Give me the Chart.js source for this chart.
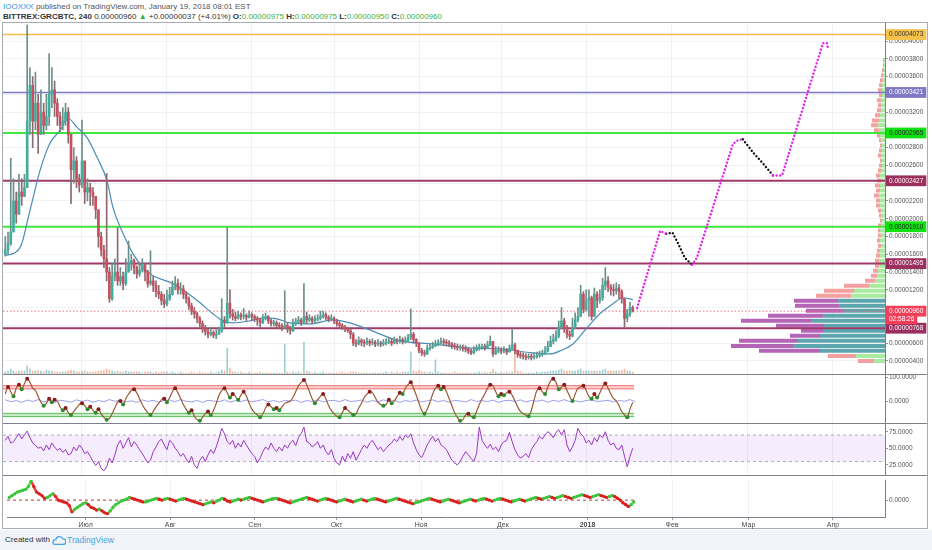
<!DOCTYPE html>
<html lang="ru">
<head>
<meta charset="utf-8">
<title>BITTREX:GRCBTC, 240</title>
<script src="https://cdn.jsdelivr.net/npm/chart.js@4.4.1/dist/chart.umd.min.js"></script>
<style>
  html, body { margin:0; padding:0; background:#fff; }
  body { position:relative; width:932px; height:550px; overflow:hidden; font-family:"Liberation Sans", Arial, sans-serif; }
  .hdr { position:absolute; left:3px; font-size:8px; line-height:9px; white-space:nowrap; color:#555; }
  #hdr1 { top:2px; }
  #hdr2 { top:12px; color:#333; }
  #hdr1 .user { color:#3b8fde; }
  #hdr2 b { font-weight:bold; color:#333; }
  #hdr2 .g { color:#3cb043; }
  #frame { position:absolute; left:2px; top:22px; width:926px; height:507px; border:1px solid #a9acb3; box-sizing:border-box; }
  canvas { position:absolute; }
  .sep { position:absolute; left:3px; width:924px; height:1px; background:#7d8087; }
  #foot { position:absolute; left:0; top:530px; width:932px; height:20px; background:#f0f3f7; }
  #foot .t1 { position:absolute; left:5px; top:5px; font-size:8px; color:#333; }
  #foot svg { position:absolute; left:52px; top:5px; }
  #foot .t2 { position:absolute; left:67px; top:5px; font-size:8.5px; color:#45a6e0; }
</style>
</head>
<body>
<div class="hdr" id="hdr1"><span class="user">IOOXXX</span> published on TradingView.com, January 19, 2018 08:01 EST</div>
<div class="hdr" id="hdr2"><b>BITTREX:GRCBTC, 240</b> 0.00000960 <span class="g">▲</span> +0.00000037 (+4.01%) <b>O:</b><span class="g">0.00000975</span> <b>H:</b><span class="g">0.00000975</span> <b>L:</b><span class="g">0.00000950</span> <b>C:</b><span class="g">0.00000960</span></div>
<div id="frame"></div>
<canvas id="cMain" width="924" height="351" style="left:3px;top:23px;"></canvas>
<div class="sep" style="top:374px"></div>
<canvas id="cOsc" width="924" height="48" style="left:3px;top:375px;"></canvas>
<div class="sep" style="top:423px"></div>
<canvas id="cRsi" width="924" height="51" style="left:3px;top:424px;"></canvas>
<div class="sep" style="top:475px"></div>
<canvas id="cMom" width="924" height="54" style="left:3px;top:476px;"></canvas>
<div id="foot">
  <span class="t1">Created with</span>
  <svg width="14" height="10" viewBox="0 0 14 10"><path d="M3 9.5h8a2.8 2.8 0 0 0 0-5.6 3.8 3.8 0 0 0-7.2 0.8A2.4 2.4 0 0 0 3 9.5z" fill="none" stroke="#45a6e0" stroke-width="1.3"/></svg>
  <span class="t2">TradingView</span>
</div>
<script>
// ---------------- DATA (price in units of 1e-8 BTC) ----------------
const START_DAY = 2;            // day index counted from 1 Jun 2017
const firstOpen = 1600;
const closeP = [
  1650,1720,1850,2200,2050,2300,2250,2350,3100,3500,
  3100,3300,2950,3200,3050,3150,3400,3450,3300,3150,
  3050,3100,3200,2950,2550,2650,2450,2380,2650,2300,
  2350,2300,2250,2100,1800,1650,1550,1400,1100,1350,
  1400,1300,1350,1270,1400,1500,1530,1450,1380,1420,
  1480,1400,1270,1300,1250,1180,1150,1080,1040,1100,
  1150,1230,1270,1200,1210,1150,1100,1020,960,930,
  880,820,760,730,700,720,690,700,740,860,
  830,1050,930,900,880,920,900,910,890,920,
  900,880,860,830,880,900,850,820,830,800,
  790,780,800,760,740,820,840,860,830,900,
  860,880,850,870,880,900,920,890,870,880,
  850,820,800,780,760,740,700,600,590,630,
  610,600,620,600,610,590,600,590,600,610,
  620,600,630,620,640,620,630,660,700,640,
  600,520,490,480,540,550,570,590,600,620,
  610,600,590,570,560,550,550,540,530,510,
  490,520,550,550,560,550,580,620,480,510,
  520,510,520,500,540,580,520,470,460,450,
  440,450,440,450,460,470,480,510,560,620,
  640,680,780,850,780,700,680,780,860,900,
  1150,980,1080,1110,900,1150,1080,1110,1250,1300,
  1230,1200,1190,1220,1180,1100,880,930,1000,960
];
const highP = [
  1800,1850,2680,2450,2300,2500,2450,2500,4180,3700,
  3600,3650,3400,3450,3300,3400,3860,3700,3550,3350,
  3200,3250,3300,3250,2950,2800,2700,2500,3110,2650,
  2450,2400,2350,2250,2100,1850,1700,2510,1450,1500,
  1550,1900,1450,1400,1550,1750,1600,1550,1470,1500,
  1550,1500,1420,1640,1350,1300,1250,1180,1150,1200,
  1230,1300,1350,1320,1280,1250,1180,1120,1050,1000,
  950,900,850,800,760,780,740,750,780,1100,
  900,1900,1200,980,950,960,940,990,930,960,
  940,920,900,880,920,940,910,870,860,850,
  830,820,1190,830,790,870,880,900,880,1270,
  950,920,900,910,920,960,960,940,910,920,
  900,870,840,820,800,780,760,720,640,670,
  650,640,660,640,650,630,640,620,640,650,
  660,650,670,650,680,660,670,700,985,720,
  650,600,540,520,580,590,610,630,640,660,
  650,640,630,610,600,590,580,580,570,550,
  530,560,580,590,590,590,620,680,620,560,
  560,550,560,540,580,760,600,520,500,490,
  480,480,480,490,500,510,520,560,620,680,
  700,740,850,1000,880,800,740,880,940,1000,
  1250,1180,1200,1200,1130,1220,1180,1200,1330,1450,
  1350,1260,1260,1280,1260,1200,1100,980,1060,1020
];
const lowP = [
  1580,1600,1700,1950,1950,2050,2150,2250,2350,2950,
  2800,3000,2735,2950,2950,3000,3050,3250,3150,3050,
  2980,3000,3050,2850,2170,2400,2350,2300,2350,2170,
  2200,2150,2150,2000,1680,1580,1450,1300,1060,1080,
  1300,1250,1250,1200,1250,1400,1420,1380,1330,1350,
  1400,1300,1230,1250,1180,1120,1100,1030,1000,1020,
  1080,1140,1200,1150,1150,1100,1050,980,920,880,
  830,780,720,690,660,680,660,650,700,720,
  780,820,880,860,850,870,860,870,850,880,
  860,840,800,780,820,860,820,790,790,770,
  760,740,760,720,700,730,800,820,800,820,
  820,840,820,830,850,860,880,860,840,850,
  820,790,770,750,730,720,650,570,560,580,
  570,560,580,570,580,560,570,560,570,580,
  590,570,590,590,600,590,600,610,640,600,
  560,490,460,450,470,520,540,560,570,590,
  580,570,560,540,530,520,520,510,500,480,
  470,480,510,520,530,520,540,570,450,470,
  490,480,490,470,500,530,480,440,430,420,
  410,420,410,420,430,440,450,470,500,560,
  590,620,660,760,720,660,640,670,760,840,
  900,940,960,900,860,900,1000,1050,1080,1200,
  1180,1140,1130,1150,1100,1050,780,840,900,950
];
const volumes = [
  2,3,5,3,2,3,3,3,8,5,
  3,3,4,3,2,4,3,3,2,2,
  2,2,2,3,4,3,2,2,3,3,
  2,2,2,2,3,3,4,5,4,3,
  2,3,2,2,3,2,2,2,2,2,
  1,2,2,2,1,2,1,2,2,2,
  1,2,1,1,2,1,1,1,2,1,
  1,2,1,1,1,2,1,1,2,4,
  3,26,6,2,2,1,2,1,1,2,
  1,1,1,2,1,1,1,1,1,1,
  1,1,30,2,1,2,1,2,1,32,
  3,2,1,2,1,1,2,1,1,1,
  1,1,1,2,1,1,2,2,2,1,
  1,1,1,1,1,1,1,1,1,2,
  1,2,1,2,1,2,2,2,22,3,
  2,3,2,2,1,2,1,14,2,1,
  1,1,1,1,2,1,1,1,1,1,
  1,1,1,2,1,2,1,2,5,2,
  1,2,1,2,1,2,24,3,2,1,
  1,1,1,1,2,1,2,2,2,3,
  3,3,4,5,3,3,3,3,3,4,
  5,3,3,3,3,3,3,3,4,5,
  3,3,3,3,3,4,5,3,3,2
];
const maDays = [1.9,7.4,11,14.7,18.3,22,24.9,28.2,31.8,35.5,39.1,41.3,45,48.6,52.3,55.9,63.2,68.3,73.1,77.8,81.5,85.1,91.3,96.1,101.2,105.9,113.2,121.6,127.8,134,146,158.1,170.5,182.6,194.6,200.8,204.5,209.2,214.3,219,223.8,227.4,231.1];
const maValues = [1584,1675,2092,2544,2849,2995,3131,3029,2916,2691,2431,2127,1833,1607,1449,1359,1269,1167,1054,930,851,828,851,885,874,828,817,862,828,760,625,591,546,535,490,479,513,591,772,930,1043,1111,1088];

// projected path (dotted), null = break
const pinkDays   = [232.6,241.0,243.2,null,252.6,254.4,267.6,269.5,271.2,null,282.2,285.5,300.4,301.9,302.3];
const pinkValues = [996,1864,1830,null,1483,1560,2845,2885,2894,null,2487,2487,3976,3976,3908];
const blackDays   = [243.2,245.5,247.6,250.0,252.6,null,271.2,274.9,278.5,282.2];
const blackValues = [1830,1844,1720,1560,1483,null,2894,2747,2623,2487];

// horizontal levels
const levelValues = [4073,3421,2965,2427,1910,1495,960,768];
const countdownValue = 873;
const countdownText = '02:58:26';

// volume profile rows (price, buy volume, sell volume)
const vpPrices = [400,456,513,569,626,682,738,795,851,908,964,1020,1077,1133,1190,1246,1303,1359,1415,1472,
  1528,1585,1641,1697,1754,1810,1867,1923,1979,2036,2092,2149,2205,2261,2318,2374,2431,2487,2543,2600,
  2656,2713,2769,2825,2882,2938,2995,3051,3107,3164,3220,3277,3333,3389,3446,3502,3559,3615,3671,3728,3784];
const vpBuy  = [11,29,65,92,87,65,62,61,74,62,42,46,47,34,31,16,10,8,7,6,
  6,5,5,4,5,4,5,4,3,4,4,5,5,6,5,5,4,5,4,3,
  3,4,3,3,4,5,6,7,6,5,4,4,4,3,3,3,2,2,1,1,1];
const vpSell = [16,28,61,62,59,30,22,48,70,55,37,44,44,35,30,25,10,6,5,4,
  4,4,3,3,3,3,2,3,2,2,3,4,4,5,4,5,4,4,3,3,
  2,3,3,2,2,3,5,7,7,5,4,3,4,3,4,3,3,2,2,1,1];
const vpValueAreaLow = 513, vpValueAreaHigh = 1077;

// oscillator (pane 2)
const osc1Values = [
  30,60,40,20,55,70,50,75,95,80,
  55,45,20,-5,-20,-10,10,-5,5,0,
  -25,-40,-30,-50,-60,-45,-30,-15,-10,-20,
  -35,-25,-40,-50,-35,-55,-70,-80,-75,-55,
  -30,-5,0,-15,10,30,45,50,35,10,
  -15,-35,-50,-60,-45,-25,-10,5,10,-5,
  15,40,55,35,10,-15,-35,-50,-40,-65,
  -80,-85,-70,-55,-45,-60,-40,-10,25,45,
  55,35,15,30,20,5,25,40,20,-10,
  -35,-50,-60,-70,-55,-30,-15,-25,-35,-30,
  -40,-25,-10,-5,0,15,40,65,80,90,
  70,40,10,-10,5,20,30,10,-20,-40,
  -55,-65,-70,-50,-30,-40,-50,-60,-55,-30,
  -10,15,30,40,35,15,-5,-15,-20,-15,
  5,-10,0,20,35,30,55,70,80,55,
  25,-10,-40,-55,-35,-5,30,55,65,50,
  60,40,10,-20,-50,-70,-85,-80,-60,-55,
  -65,-70,-45,-15,10,30,55,70,65,40,
  20,30,25,35,40,25,0,-25,-45,-55,
  -60,-65,-40,5,45,55,40,30,60,85,
  95,80,50,60,70,45,20,0,30,55,
  60,65,45,20,10,30,15,35,60,75,
  55,30,10,0,-20,-45,-60,-70,-35,-5
];
const osc1Signal = [
  5,-3,2,-6,4,-2,6,-4,1,-7, 3,0,-5,5,-2,4,-6,2,-3,6,
  -1,3,-4,1,-6,5,-2,3,-5,2, 4,-3,6,-1,-4,2,-6,3,0,-3,
  5,-5,2,-2,4,-4,1,6,-3,2, -5,3,-1,4,-6,2,-2,5,-4,1,
  3,-3,6,-2,0,4,-5,2,-3,5, -1,3,-6,2,-2,4,-4,1,5,-3,
  2,-5,3,0,-4,6,-2,2,-3,4, -6,1,3,-2,5,-4,2,-1,4,-5,
  3,-2,6,-3,1,-4,2,5,-2,0, 3,-4,2,-1,6,-3
];
const osc1UpperBand = [52, 66];
const osc1LowerBand = [-67, -53];

// RSI (pane 3)
const rsiValues = [
  62,68,58,60,66,72,64,70,76,66,
  58,55,50,52,46,55,48,58,52,47,
  50,44,48,40,42,52,46,55,50,42,
  45,38,30,24,30,20,16,22,35,28,
  40,55,62,50,58,66,52,60,55,48,
  42,35,28,32,45,52,60,64,55,48,
  62,58,50,45,38,42,34,28,38,25,
  20,32,38,30,40,48,42,52,65,80,
  72,60,56,62,50,58,52,62,55,48,
  42,38,28,35,45,52,48,58,50,45,
  52,46,55,50,58,62,54,66,72,82,
  60,58,52,55,60,50,55,45,40,48,
  35,28,25,38,30,42,35,45,32,40,
  48,55,50,58,62,55,48,52,45,50,
  55,58,64,60,68,62,70,66,72,58,
  48,40,36,45,55,62,68,60,65,55,
  52,48,40,32,28,25,30,38,45,40,
  35,30,42,82,62,55,50,56,48,52,
  45,55,60,62,74,60,48,40,35,38,
  42,36,48,55,60,68,64,70,75,72,
  66,74,78,70,78,55,45,52,62,80,
  72,68,58,62,55,66,60,70,66,75,
  62,55,58,50,48,55,38,22,38,50
];
const rsiBand = [30, 70];

// momentum (pane 4)
const osc3Values = [
  3,5,7,9,10,11,12,15,21,15,
  9,7,5,2,3,5,7,4,0,-1,
  -2,-3,-6,-13,-10,-8,-6,-4,-3,-5,
  -8,-9,-11,-10,-12,-14,-15,-12,-8,-5,
  -3,-1,0,1,3,2,1,0,-1,-2,
  -2,-1,0,1,2,1,0,1,2,1,
  0,-1,0,1,2,1,0,-1,-2,-3,
  -4,-5,-4,-3,-2,-3,-1,0,2,1,
  -1,-2,-1,0,1,0,1,2,3,2,
  1,0,-1,-2,-1,0,1,2,2,1,
  0,-1,-2,-3,-2,-1,0,1,2,3,
  2,1,0,-1,0,1,2,1,0,-1,
  -2,-1,0,1,0,-1,-2,-1,0,1,
  0,-1,0,1,2,1,0,-1,-2,-1,
  0,1,2,1,0,-1,-2,-3,-4,-3,
  -2,-1,0,1,2,1,0,-1,-2,-1,
  0,1,0,-1,-2,-3,-2,-1,0,1,
  0,-1,0,1,2,1,0,-1,0,1,
  2,1,0,-1,-2,-1,0,1,0,-1,
  0,1,2,3,2,1,2,3,4,3,
  2,3,4,5,4,3,2,3,4,5,
  6,5,4,3,4,5,6,5,4,3,
  4,5,4,2,0,-3,-5,-7,-5,-2
];

// axes
const priceGridTicks = [400,600,800,1000,1200,1400,1600,1800,2000,2200,2400,2600,2800,3000,3200,3400,3600,3800,4000];
const coveredTicks = [800,1000,2400,3000,3400];
const monthDays = [30,61,92,122,153,183,214,245,273,304];
const monthLabels = ['Июл','Авг','Сен','Окт','Ноя','Дек','2018','Фев','Мар','Апр'];
const osc1Ticks = [100, 0];
const rsiTicks = [75, 50, 25];
const osc3Ticks = [0];

// ---------------- STYLE ----------------
const FONT = '"Liberation Sans", Arial, sans-serif';
const levelLineColors = ['#f6b94a','#8078c8','#3ee63e','#9e3b69','#3ee63e','#9e3b69','#f06a7c','#9e3b69'];
const levelLineWidths = [1.5,1.5,2,2,2,2,1,2];
const levelDashed     = [false,false,false,false,false,false,true,false];
const levelBoxColors  = ['#f6c24a','#7f78c6','#11e011','#9b2f5e','#11e011','#9b2f5e','#f2405a','#9b2f5e'];
const levelTextColors = ['#333','#fff','#222','#fff','#222','#fff','#fff','#fff'];
const UP = '#3fae9e', DOWN = '#c94f5f';

const xMinDay = 1.17, xMaxDay = 323.07;
const Y_MIN = 252.6, Y_MAX = 4202.9;
const AXIS_W = 42;

Chart.defaults.font.family = FONT;
Chart.defaults.animation = false;

const opens = closeP.map((c, i) => i === 0 ? firstOpen : closeP[i - 1]);
const dayAt = i => START_DAY + i;
const isUp = i => closeP[i] >= opens[i];

function xAxis(showLabels) {
  return {
    type: 'linear', min: xMinDay, max: xMaxDay, offset: false,
    grid: { color: '#eef0f4', offset: false, drawTicks: showLabels, tickLength: 3, tickColor: '#9598a1' },
    border: { display: showLabels, color: '#7d8087', width: 1 },
    ticks: {
      display: showLabels, autoSkip: false, maxRotation: 0, padding: 1, color: '#4a4a4a',
      font: ctx => ({ family: FONT, size: 7, weight: (ctx.tick && ctx.tick.value === 214) ? 'bold' : 'normal' }),
      callback: v => { const k = monthDays.indexOf(v); return k >= 0 ? monthLabels[k] : ''; }
    },
    afterBuildTicks: s => { s.ticks = monthDays.map(v => ({ value: v })); },
    afterFit: s => { s.height = showLabels ? 13 : 0; s.paddingLeft = 0; s.paddingRight = 0; }
  };
}
function yAxis(min, max, tickVals, labelFn, extra) {
  extra = extra || {};
  return Object.assign({
    type: 'linear', position: 'right', min: min, max: max, beginAtZero: false,
    grid: { color: 'rgba(0,0,0,0)', drawTicks: true, tickLength: 3, tickColor: '#9598a1' },
    border: { display: true, color: '#7d8087', width: 1 },
    ticks: { autoSkip: false, padding: 1, color: '#555', font: { family: FONT, size: 6.5 }, callback: labelFn },
    afterBuildTicks: s => { s.ticks = tickVals.map(v => ({ value: v })); },
    afterFit: s => { s.width = AXIS_W; s.paddingTop = 0; s.paddingBottom = 0; }
  }, extra);
}
const baseOpts = {
  responsive: false, animation: false, events: [],
  layout: { padding: 0 },
  plugins: { legend: { display: false }, tooltip: { enabled: false } },
  elements: { point: { radius: 0 } }
};

// ---------------- MAIN PRICE PANE ----------------
function tickVal(ctx) { return ctx && ctx.tick ? ctx.tick.value : null; }
const mainTickVals = priceGridTicks.concat(levelValues, [countdownValue]);

const vpSeg = (useVA, part) => {
  const pts = [];
  vpPrices.forEach((p, i) => {
    const inVA = p >= vpValueAreaLow && p <= vpValueAreaHigh;
    if (inVA !== useVA) return;
    const a = part === 'buy' ? 0 : vpBuy[i];
    const b = part === 'buy' ? vpBuy[i] : vpBuy[i] + vpSell[i];
    pts.push({ x: a, y: p }, { x: b, y: p }, { x: b, y: null });
  });
  return pts;
};
const withGaps = (days, vals) => {
  let lastX = days.find(d => d !== null);
  return days.map((d, i) => {
    if (d === null) return { x: lastX, y: null };
    lastX = d; return { x: d, y: vals[i] };
  });
};

const mainDatasets = [
  { type: 'line', data: withGaps(pinkDays, pinkValues), borderColor: '#e21fe6', borderWidth: 2.4,
    borderDash: [0.01, 3.6], borderCapStyle: 'round', pointRadius: 0, tension: 0, xAxisID: 'x', yAxisID: 'y' },
  { type: 'line', data: withGaps(blackDays, blackValues), borderColor: '#111', borderWidth: 2.4,
    borderDash: [0.01, 3.6], borderCapStyle: 'round', pointRadius: 0, tension: 0, xAxisID: 'x', yAxisID: 'y' },
  { type: 'bar', data: closeP.map((c, i) => ({ x: dayAt(i), y: [opens[i], c] })), grouped: false,
    barThickness: 2, maxBarThickness: 2, minBarLength: 1,
    backgroundColor: ctx => isUp(ctx.dataIndex) ? UP : DOWN, xAxisID: 'x', yAxisID: 'y' },
  { type: 'bar', data: highP.map((h, i) => ({ x: dayAt(i), y: [lowP[i], h] })), grouped: false,
    barThickness: 1, maxBarThickness: 1,
    backgroundColor: ctx => isUp(ctx.dataIndex) ? '#6c8f8a' : '#8a6a70', xAxisID: 'x', yAxisID: 'y' },
  { type: 'line', data: maDays.map((d, i) => ({ x: d, y: maValues[i] })), borderColor: '#4a8db7', borderWidth: 1.2,
    pointRadius: 0, cubicInterpolationMode: 'monotone', xAxisID: 'x', yAxisID: 'y' }
].concat(levelValues.map((v, i) => ({
    type: 'line', data: [{ x: xMinDay, y: v }, { x: xMaxDay, y: v }], borderColor: levelLineColors[i],
    borderWidth: levelLineWidths[i], borderDash: levelDashed[i] ? [1.5, 2] : [], pointRadius: 0, xAxisID: 'x', yAxisID: 'y'
  }))).concat([
  { type: 'line', data: vpSeg(true, 'buy'),  borderColor: '#5da6ad', borderWidth: 4, borderCapStyle: 'butt', pointRadius: 0, xAxisID: 'xvp', yAxisID: 'y' },
  { type: 'line', data: vpSeg(true, 'sell'), borderColor: '#b565b6', borderWidth: 4, borderCapStyle: 'butt', pointRadius: 0, xAxisID: 'xvp', yAxisID: 'y' },
  { type: 'line', data: vpSeg(false, 'buy'),  borderColor: '#a8eaa0', borderWidth: 4, borderCapStyle: 'butt', pointRadius: 0, xAxisID: 'xvp', yAxisID: 'y' },
  { type: 'line', data: vpSeg(false, 'sell'), borderColor: '#f3a0a0', borderWidth: 4, borderCapStyle: 'butt', pointRadius: 0, xAxisID: 'xvp', yAxisID: 'y' },
  { type: 'bar', data: volumes.map((v, i) => ({ x: dayAt(i), y: v })), grouped: false,
    barThickness: 1, maxBarThickness: 1,
    backgroundColor: ctx => isUp(ctx.dataIndex) ? 'rgba(80,170,170,0.55)' : 'rgba(240,140,100,0.6)', xAxisID: 'x', yAxisID: 'yv' }
]);

new Chart(document.getElementById('cMain'), {
  type: 'line',
  data: { datasets: mainDatasets },
  options: Object.assign({}, baseOpts, {
    scales: {
      x: xAxis(false),
      xvp: { type: 'linear', display: false, reverse: true, min: 0, max: 882, offset: false },
      yv: { type: 'linear', display: false, min: 0, max: 351, beginAtZero: true },
      y: yAxis(Y_MIN, Y_MAX, mainTickVals,
        v => v === countdownValue ? countdownText : (v / 1e8).toFixed(8),
        {
          grid: {
            color: ctx => { const v = tickVal(ctx); return (levelValues.includes(v) || v === countdownValue) ? 'rgba(0,0,0,0)' : '#f0f2f5'; },
            drawTicks: true, tickLength: 3,
            tickColor: ctx => { const v = tickVal(ctx); return (levelValues.includes(v) || v === countdownValue) ? 'rgba(0,0,0,0)' : '#9598a1'; }
          },
          ticks: {
            autoSkip: false, padding: 1, font: { family: FONT, size: 6.5 },
            callback: v => v === countdownValue ? countdownText : (v / 1e8).toFixed(8),
            color: ctx => {
              const v = tickVal(ctx); const li = levelValues.indexOf(v);
              if (li >= 0) return levelTextColors[li];
              if (v === countdownValue) return '#fff';
              if (coveredTicks.includes(v)) return 'rgba(0,0,0,0)';
              return '#555';
            },
            showLabelBackdrop: true,
            backdropPadding: { x: 3, y: 1.5 },
            backdropColor: ctx => {
              const v = tickVal(ctx); const li = levelValues.indexOf(v);
              if (li >= 0) return levelBoxColors[li];
              if (v === countdownValue) return '#f2405a';
              return 'rgba(0,0,0,0)';
            }
          }
        })
    }
  })
});

// ---------------- OSCILLATOR PANE ----------------
function extremum(arr, i) {
  const v = arr[i], a = arr[i - 1], b = arr[i + 1];
  if (a === undefined || b === undefined) return 0;
  if (v > a && v >= b) return 1;
  if (v < a && v <= b) return -1;
  return 0;
}
const lastDay = START_DAY + osc1Values.length - 0.5;
new Chart(document.getElementById('cOsc'), {
  type: 'line',
  data: { datasets: [
    { data: osc1Values.map((v, i) => ({ x: dayAt(i), y: v })), borderColor: '#9a5a32', borderWidth: 1.2, tension: 0.3,
      pointRadius: ctx => extremum(osc1Values, ctx.dataIndex) !== 0 ? 2 : 0,
      pointBackgroundColor: ctx => extremum(osc1Values, ctx.dataIndex) > 0 ? '#8b1a1a' : '#2e8b2e',
      pointBorderWidth: 0 },
    { data: osc1Signal.map((v, i) => ({ x: START_DAY + 2 * i, y: v })), borderColor: '#9c9cf0', borderWidth: 1, pointRadius: 0 },
    { data: [{ x: xMinDay, y: osc1UpperBand[1] }, { x: lastDay, y: osc1UpperBand[1] }], borderColor: '#f27474', borderWidth: 1, pointRadius: 0, fill: '+1', backgroundColor: 'rgba(242,90,90,0.28)' },
    { data: [{ x: xMinDay, y: osc1UpperBand[0] }, { x: lastDay, y: osc1UpperBand[0] }], borderColor: '#f27474', borderWidth: 1, pointRadius: 0 },
    { data: [{ x: xMinDay, y: osc1LowerBand[1] }, { x: lastDay, y: osc1LowerBand[1] }], borderColor: '#5cc05c', borderWidth: 1, pointRadius: 0, fill: '+1', backgroundColor: 'rgba(80,190,80,0.3)' },
    { data: [{ x: xMinDay, y: osc1LowerBand[0] }, { x: lastDay, y: osc1LowerBand[0] }], borderColor: '#5cc05c', borderWidth: 1, pointRadius: 0 }
  ] },
  options: Object.assign({}, baseOpts, {
    scales: { x: xAxis(false), y: yAxis(-94.4, 111.6, osc1Ticks, v => v.toFixed(4)) }
  })
});

// ---------------- RSI PANE ----------------
new Chart(document.getElementById('cRsi'), {
  type: 'line',
  data: { datasets: [
    { data: rsiValues.map((v, i) => ({ x: dayAt(i), y: v })), borderColor: '#9b36c2', borderWidth: 1, pointRadius: 0 },
    { data: [{ x: xMinDay, y: rsiBand[1] }, { x: xMaxDay, y: rsiBand[1] }], borderColor: '#b0b0b8', borderWidth: 1, borderDash: [3, 3], pointRadius: 0, fill: '+1', backgroundColor: 'rgba(190,140,240,0.16)' },
    { data: [{ x: xMinDay, y: rsiBand[0] }, { x: xMaxDay, y: rsiBand[0] }], borderColor: '#b0b0b8', borderWidth: 1, borderDash: [3, 3], pointRadius: 0 }
  ] },
  options: Object.assign({}, baseOpts, {
    scales: { x: xAxis(false), y: yAxis(9.8, 86.6, rsiTicks, v => v.toFixed(4)) }
  })
});

// ---------------- MOMENTUM PANE + TIME AXIS ----------------
const MGREEN = '#55e055', MRED = '#f23c3c';
new Chart(document.getElementById('cMom'), {
  type: 'line',
  data: { datasets: [
    { data: osc3Values.map((v, i) => ({ x: dayAt(i), y: v })), borderWidth: 2.6, tension: 0.2,
      segment: { borderColor: c => c.p1.parsed.y >= c.p0.parsed.y ? MGREEN : MRED },
      borderColor: MGREEN,
      pointRadius: 1.6, pointBorderWidth: 0,
      pointBackgroundColor: ctx => { const i = ctx.dataIndex; return (i > 0 && osc3Values[i] < osc3Values[i - 1]) ? '#d81e1e' : '#3bc43b'; } },
    { data: [{ x: xMinDay, y: 0 }, { x: lastDay, y: 0 }], borderColor: '#c0392b', borderWidth: 1, borderDash: [3, 3], pointRadius: 0 }
  ] },
  options: Object.assign({}, baseOpts, {
    scales: { x: xAxis(true), y: yAxis(-18.7, 22.3, osc3Ticks, v => v.toFixed(4)) }
  })
});
</script>
</body>
</html>
